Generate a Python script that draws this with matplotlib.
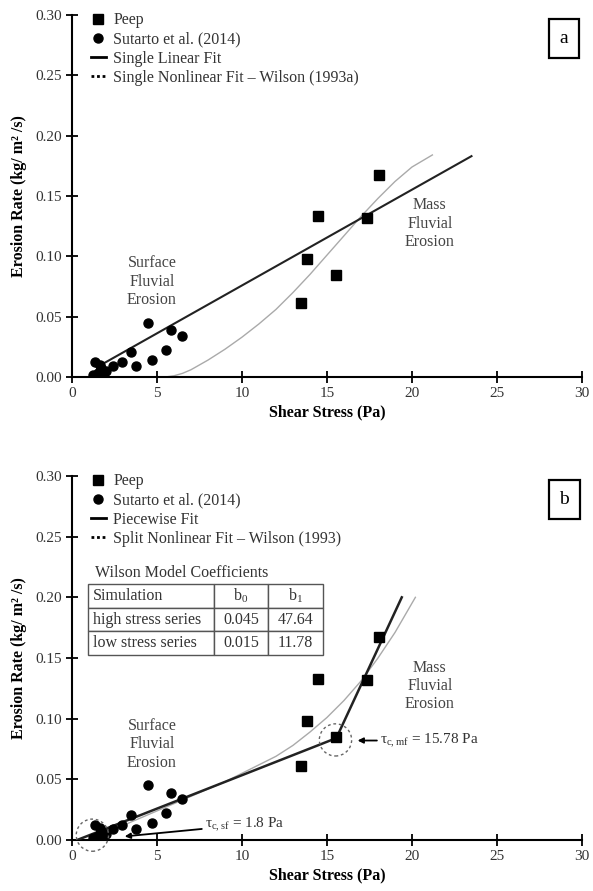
import matplotlib
matplotlib.use("Agg")
import matplotlib.pyplot as plt
from matplotlib.lines import Line2D
from matplotlib.patches import Ellipse

plt.rcParams["font.family"] = ["Liberation Serif", "DejaVu Serif"]
plt.rcParams["mathtext.fontset"] = "custom"
plt.rcParams["mathtext.rm"] = "Liberation Serif"
plt.rcParams["mathtext.it"] = "Liberation Serif:italic"
plt.rcParams["font.size"] = 11

# Peep data (squares)
peep_x = [13.5, 13.8, 14.5, 15.55, 17.35, 18.05]
peep_y = [0.061, 0.098, 0.133, 0.0845, 0.132, 0.167]

# Sutarto et al. (2014) data (circles)
sut_x = [4.5, 5.8, 6.45, 3.5, 5.55, 4.7, 3.75, 2.95, 2.4, 1.35, 1.65, 1.25, 1.5, 1.8, 2.0, 1.7, 1.55]
sut_y = [0.045, 0.039, 0.034, 0.0205, 0.022, 0.014, 0.0095, 0.0125, 0.009, 0.0125, 0.010,
         0.002, 0.0006, 0.0033, 0.0047, 0.0075, 0.003]

# panel a fits
lin_x = [1.45, 23.5]
lin_y = [0.008, 0.183]
wil_a_x = [5.5, 6.0, 6.5, 7.0, 7.5, 8.0, 9.0, 10.0, 11.0, 12.0, 13.0, 14.0, 15.0,
           16.0, 17.0, 18.0, 19.0, 20.0, 21.2]
wil_a_y = [0.0, 0.001, 0.003, 0.006, 0.010, 0.014, 0.023, 0.033, 0.044, 0.056, 0.070,
           0.085, 0.101, 0.117, 0.133, 0.148, 0.162, 0.174, 0.184]

# panel b fits
pw_x = [0.3, 15.55, 19.4]
pw_y = [0.0, 0.084, 0.200]
wil_b_x = [1.3, 2.0, 3.0, 4.0, 5.0, 6.0, 7.0, 8.0, 9.0, 10.0, 11.0, 12.0, 13.0, 14.0,
           15.0, 16.0, 17.0, 18.0, 19.0, 20.2]
wil_b_y = [0.0, 0.005, 0.012, 0.018, 0.024, 0.030, 0.036, 0.042, 0.048, 0.055, 0.062,
           0.069, 0.078, 0.089, 0.101, 0.115, 0.131, 0.150, 0.171, 0.200]

# table
tbl_title = "Wilson Model Coefficients"
tbl_rows = [["Simulation", "b$_0$", "b$_1$"],
            ["high stress series", "0.045", "47.64"],
            ["low stress series", "0.015", "11.78"]]

xticks = [0, 5, 10, 15, 20, 25, 30]
yticks = [0.00, 0.05, 0.10, 0.15, 0.20, 0.25, 0.30]

fig = plt.figure(figsize=(5.93, 8.91), dpi=100)
ax_a = fig.add_axes([0.1214, 0.5769, 0.860, 0.4063])
ax_b = fig.add_axes([0.1214, 0.0572, 0.860, 0.4086])


def style_axes(ax):
    ax.set_xlim(0, 30)
    ax.set_ylim(0, 0.30)
    ax.set_xticks(xticks)
    ax.set_yticks(yticks)
    ax.set_yticklabels([f"{v:.2f}" for v in yticks])
    for s in ["top", "right"]:
        ax.spines[s].set_visible(False)
    for s in ["left", "bottom"]:
        ax.spines[s].set_linewidth(1.5)
    ax.tick_params(direction="inout", length=8, width=1.3, labelsize=11, labelcolor="#333333")
    ax.set_xlabel("Shear Stress (Pa)", fontweight="bold", fontsize=11.5, labelpad=3)
    ax.set_ylabel("Erosion Rate (kg/ m² /s)", fontweight="bold", fontsize=11.5, labelpad=6)
    ax.text(4.7, 0.079, "Surface\nFluvial\nErosion", ha="center", va="center",
            color="#444444", fontsize=11.5)
    ax.text(21.05, 0.127, "Mass\nFluvial\nErosion", ha="center", va="center",
            color="#444444", fontsize=11.5)


def scatter(ax):
    ax.plot(peep_x, peep_y, "s", color="black", ms=7, zorder=4)
    ax.plot(sut_x, sut_y, "o", color="black", ms=6.5, zorder=4)


def legend(ax, lab3, lab4):
    handles = [
        Line2D([], [], marker="s", color="black", ls="none", ms=7),
        Line2D([], [], marker="o", color="black", ls="none", ms=6.5),
        Line2D([], [], color="black", lw=2),
        Line2D([], [], color="black", lw=2, ls=(0, (1, 1))),
    ]
    ax.legend(handles, ["Peep", "Sutarto et al. (2014)", lab3, lab4],
              loc="upper left", bbox_to_anchor=(0.025, 1.025), frameon=False,
              handlelength=0.9, handletextpad=0.5, labelspacing=0.2,
              borderaxespad=0, fontsize=11.5, labelcolor="#333333")


def panel_box(ax, letter):
    ax.text(0.965, 0.935, letter, transform=ax.transAxes, ha="center", va="center",
            fontsize=14,
            bbox=dict(boxstyle="square,pad=0.55", fc="white", ec="black", lw=1.6))


# ---- panel a
style_axes(ax_a)
ax_a.plot(wil_a_x, wil_a_y, color="#aaaaaa", lw=1.0, zorder=2)
ax_a.plot(lin_x, lin_y, color="#222222", lw=1.5, zorder=3)
scatter(ax_a)
legend(ax_a, "Single Linear Fit", "Single Nonlinear Fit – Wilson (1993a)")
panel_box(ax_a, "a")

# ---- panel b
style_axes(ax_b)
ax_b.plot(wil_b_x, wil_b_y, color="#aaaaaa", lw=1.0, zorder=2)
ax_b.plot(pw_x, pw_y, color="#222222", lw=1.8, zorder=3)
scatter(ax_b)
legend(ax_b, "Piecewise Fit", "Split Nonlinear Fit – Wilson (1993)")
panel_box(ax_b, "b")

for cx, cy in [(1.2, 0.004), (15.5, 0.0825)]:
    ax_b.add_patch(Ellipse((cx, cy), 1.9, 0.0265, fill=False, ec="#666666",
                           ls=(0, (2, 2)), lw=1.0, zorder=5, clip_on=False))

ax_b.annotate("τ$_{\\mathrm{c,sf}}$ = 1.8 Pa", xy=(3.1, 0.003), xytext=(7.8, 0.0125),
              va="center", ha="left", fontsize=11, color="#333333",
              arrowprops=dict(arrowstyle="-|>", color="black", lw=1.3, shrinkA=0,
                              shrinkB=0, mutation_scale=8))
ax_b.annotate("τ$_{\\mathrm{c,mf}}$ = 15.78 Pa", xy=(16.8, 0.082), xytext=(18.1, 0.082),
              va="center", ha="left", fontsize=11, color="#333333",
              arrowprops=dict(arrowstyle="-|>", color="black", lw=1.3, shrinkA=0,
                              shrinkB=0, mutation_scale=8))

ax_b.text(0.045, 0.733, tbl_title, transform=ax_b.transAxes, ha="left", va="center",
          fontsize=11.5, color="#333333")
tbl = ax_b.table(cellText=tbl_rows, cellLoc="center", colWidths=[0.536, 0.230, 0.234],
                 bbox=[0.031, 0.508, 0.461, 0.195])
tbl.auto_set_font_size(False)
tbl.set_fontsize(11.5)
for (r, c), cell in tbl.get_celld().items():
    cell.set_edgecolor("#555555")
    cell.set_linewidth(1.0)
    cell.get_text().set_color("#333333")
    if c == 0:
        cell.get_text().set_ha("left")
        cell.PAD = 0.04

fig.savefig("out.png", dpi=100)
